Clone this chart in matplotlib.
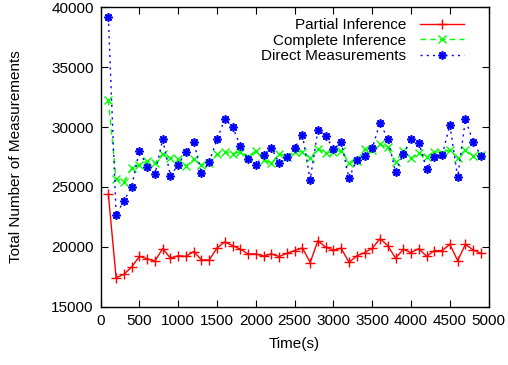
#!/usr/bin/env python3
# measurements over time, gnuplot-like look
import matplotlib
matplotlib.use('Agg')
import matplotlib.pyplot as plt

time_s = list(range(100, 5000, 100))

partial_inference = [24400, 17400, 17700, 18300, 19200, 19000, 18800, 19850, 19050, 19250,
                     19200, 19600, 18900, 18900, 19900, 20400, 20100, 19800, 19400, 19400,
                     19230, 19400, 19180, 19450, 19680, 19900, 18680, 20500, 19960, 19730,
                     19870, 18700, 19230, 19510, 19870, 20680, 20090, 19040, 19790, 19510,
                     19840, 19200, 19680, 19680, 20200, 18840, 20200, 19730, 19450]

complete_inference = [32250, 25660, 25440, 26550, 26860, 27140, 26970, 27770, 27390, 27330,
                      26750, 27300, 26830, 27020, 27720, 27900, 27750, 27910, 27520, 28020,
                      27250, 26970, 27750, 27520, 27940, 27940, 27390, 28190, 27860, 27940,
                      28020, 27020, 27150, 28130, 28080, 28550, 28300, 27100, 28020, 27390,
                      27800, 27520, 27940, 27860, 28080, 27440, 28080, 27580, 27660]

direct_measurements = [39150, 22650, 23820, 25010, 28020, 26690, 26050, 28970, 25910, 26860,
                       27910, 28770, 26130, 27100, 28970, 30660, 30020, 28440, 27300, 26800,
                       27660, 28280, 26970, 27520, 28220, 29360, 25580, 29750, 29280, 28140,
                       28720, 25720, 27270, 27580, 28220, 30360, 29020, 26250, 27720, 29000,
                       28690, 26520, 27470, 27640, 30170, 25800, 30640, 28770, 27610]

plt.rcParams['font.family'] = ['Liberation Sans', 'DejaVu Sans']
plt.rcParams['font.size'] = 11

fig = plt.figure(figsize=(5.08, 3.65), dpi=100)
ax = fig.add_axes([0.198, 0.16, 0.764, 0.82])

ax.plot(time_s, partial_inference, color='#ff0000', lw=1, ls='-',
        marker='+', ms=7, mew=1, label='Partial Inference')
ax.plot(time_s, complete_inference, color='#00ff00', lw=1, ls=(0, (4, 3)),
        marker='x', ms=5.5, mew=1, label='Complete Inference')
ax.plot(time_s, direct_measurements, color='#0000ff', lw=1, ls=(0, (1.5, 3)),
        marker=(8, 2, 0), ms=6, mew=1.2, label='Direct Measurements')

ax.set_xlim(0, 5000)
ax.set_ylim(15000, 40000)
ax.set_xticks(range(0, 5001, 500))
ax.set_yticks(range(15000, 40001, 5000))
ax.tick_params(direction='in', top=True, right=True, length=5, width=0.8, pad=5)
for s in ax.spines.values():
    s.set_linewidth(1)

ax.set_xlabel('Time(s)', labelpad=7)
ax.set_ylabel('Total Number of Measurements', labelpad=20)

ax.legend(loc='upper right', frameon=False, markerfirst=False, handlelength=2.9,
          handletextpad=0.9, labelspacing=0.1, borderaxespad=0.3, fontsize=11,
          bbox_to_anchor=(0.965, 1.0))

fig.savefig('out.png', dpi=100)
